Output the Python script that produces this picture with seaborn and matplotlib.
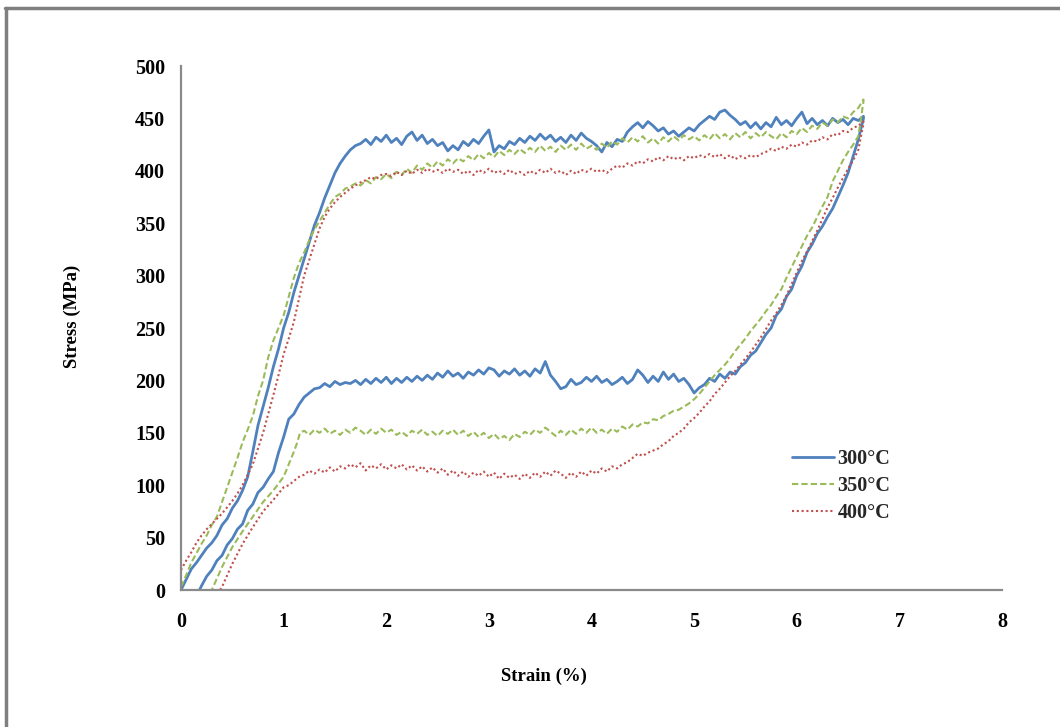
import numpy as np
import pandas as pd
import matplotlib
matplotlib.use("Agg")
import matplotlib.pyplot as plt
from matplotlib.lines import Line2D
import seaborn as sns

# ---------------- data ----------------
TEMPS = ["300°C", "350°C", "400°C"]

LOAD_STRAIN = [
    0.00, 0.05, 0.10, 0.15, 0.20, 0.25, 0.30, 0.35, 0.40, 0.45,
    0.50, 0.55, 0.60, 0.65, 0.70, 0.75, 0.80, 0.85, 0.90, 0.95,
    1.00, 1.05, 1.10, 1.15, 1.20, 1.25, 1.30, 1.35, 1.40, 1.45,
    1.50, 1.55, 1.60, 1.65, 1.70, 1.75, 1.80, 1.85, 1.90, 1.95,
    2.00, 2.05, 2.10, 2.15, 2.20, 2.25, 2.30, 2.35, 2.40, 2.45,
    2.50, 2.55, 2.60, 2.65, 2.70, 2.75, 2.80, 2.85, 2.90, 2.95,
    3.00, 3.05, 3.10, 3.15, 3.20, 3.25, 3.30, 3.35, 3.40, 3.45,
    3.50, 3.55, 3.60, 3.65, 3.70, 3.75, 3.80, 3.85, 3.90, 3.95,
    4.00, 4.05, 4.10, 4.15, 4.20, 4.25, 4.30, 4.35, 4.40, 4.45,
    4.50, 4.55, 4.60, 4.65, 4.70, 4.75, 4.80, 4.85, 4.90, 4.95,
    5.00, 5.05, 5.10, 5.15, 5.20, 5.25, 5.30, 5.35, 5.40, 5.45,
    5.50, 5.55, 5.60, 5.65, 5.70, 5.75, 5.80, 5.85, 5.90, 5.95,
    6.00, 6.05, 6.10, 6.15, 6.20, 6.25, 6.30, 6.35, 6.40, 6.45,
    6.50, 6.55, 6.60, 6.65,
]

LOAD_300 = [
    0, 10, 20, 26, 33, 40, 45, 52, 62, 68,
    78, 85, 95, 108, 132, 157, 175, 193, 213, 230,
    250, 265, 284, 300, 316, 332, 348, 360, 374, 386,
    398, 407, 414, 420, 424, 426, 430, 425, 432, 428,
    434, 427, 431, 425, 433, 437, 429, 434, 426, 430,
    424, 427, 419, 424, 420, 428, 424, 430, 426, 433,
    439, 418, 424, 421, 428, 425, 431, 427, 433, 429,
    435, 430, 434, 428, 432, 427, 434, 429, 436, 431,
    428, 424, 418, 427, 423, 430, 428, 437, 442, 446,
    441, 447, 443, 438, 441, 435, 438, 433, 437, 441,
    438, 444, 448, 452, 449, 456, 458, 453, 449, 444,
    447, 441, 446, 440, 446, 442, 451, 444, 448, 443,
    450, 456, 445, 450, 444, 448, 443, 450, 446, 449,
    444, 450, 448, 452,
]

LOAD_350 = [
    3, 14, 26, 35, 44, 52, 62, 70, 84, 98,
    112, 126, 141, 153, 166, 185, 200, 222, 238, 250,
    262, 280, 298, 312, 322, 334, 344, 352, 360, 368,
    375, 378, 383, 385, 388, 386, 391, 388, 394, 392,
    397, 393, 399, 396, 402, 398, 405, 401, 407, 403,
    409, 405, 411, 407, 412, 409, 414, 410, 416, 412,
    417, 413, 419, 415, 420, 416, 421, 417, 422, 418,
    424, 419, 423, 418, 424, 420, 425, 420, 426, 421,
    424, 420, 426, 422, 428, 425, 431, 427, 432, 428,
    433, 427, 431, 426, 432, 428, 433, 429, 434, 430,
    433, 429, 434, 430, 436, 431, 435, 430, 436, 432,
    437, 431, 436, 432, 437, 433, 430, 436, 432, 438,
    435, 441, 437, 443, 440, 446, 443, 449, 446, 452,
    450, 456, 460, 468,
]

LOAD_400 = [
    19, 28, 36, 45, 52, 58, 63, 68, 73, 79,
    85, 92, 100, 110, 120, 135, 150, 168, 186, 205,
    225, 240, 256, 278, 300, 315, 330, 345, 356, 364,
    370, 375, 379, 383, 386, 389, 391, 394, 392, 396,
    397, 395, 399, 396, 400, 397, 401, 398, 402, 399,
    401, 398, 402, 399, 401, 397, 400, 396, 401, 398,
    402, 398, 400, 397, 401, 397, 399, 396, 400, 397,
    401, 398, 402, 398, 400, 396, 400, 397, 401, 399,
    402, 399, 401, 398, 402, 405, 403, 407, 405, 409,
    407, 411, 409, 413, 410, 414, 411, 413, 410, 414,
    412, 415, 413, 416, 413, 416, 412, 415, 411, 414,
    412, 415, 413, 416, 418, 421, 419, 423, 421, 425,
    423, 427, 425, 429, 428, 432, 430, 435, 434, 438,
    437, 441, 443, 447,
]

UNLOAD_STRAIN = [
    6.65, 6.60, 6.55, 6.50, 6.45, 6.40, 6.35, 6.30, 6.25, 6.20,
    6.15, 6.10, 6.05, 6.00, 5.95, 5.90, 5.85, 5.80, 5.75, 5.70,
    5.65, 5.60, 5.55, 5.50, 5.45, 5.40, 5.35, 5.30, 5.25, 5.20,
    5.15, 5.10, 5.05, 5.00, 4.95, 4.90, 4.85, 4.80, 4.75, 4.70,
    4.65, 4.60, 4.55, 4.50, 4.45, 4.40, 4.35, 4.30, 4.25, 4.20,
    4.15, 4.10, 4.05, 4.00, 3.95, 3.90, 3.85, 3.80, 3.75, 3.70,
    3.65, 3.60, 3.55, 3.50, 3.45, 3.40, 3.35, 3.30, 3.25, 3.20,
    3.15, 3.10, 3.05, 3.00, 2.95, 2.90, 2.85, 2.80, 2.75, 2.70,
    2.65, 2.60, 2.55, 2.50, 2.45, 2.40, 2.35, 2.30, 2.25, 2.20,
    2.15, 2.10, 2.05, 2.00, 1.95, 1.90, 1.85, 1.80, 1.75, 1.70,
    1.65, 1.60, 1.55, 1.50, 1.45, 1.40, 1.35, 1.30, 1.25, 1.20,
]

UNLOAD_300 = [
    450, 430, 414, 398, 386, 375, 364, 356, 347, 340,
    330, 322, 309, 300, 287, 280, 268, 262, 250, 244,
    236, 228, 224, 217, 213, 206, 208, 202, 206, 199,
    202, 196, 193, 188, 196, 202, 199, 206, 201, 208,
    199, 204, 198, 205, 210, 201, 197, 203, 199, 196,
    201, 198, 204, 199, 203, 198, 196, 201, 194, 192,
    199, 205, 218, 207, 211, 204, 209, 205, 211, 206,
    209, 204, 210, 212, 206, 210, 205, 208, 202, 207,
    204, 209, 203, 207, 201, 205, 200, 204, 199, 203,
    198, 202, 197, 203, 198, 202, 197, 201, 196, 200,
    197, 198, 196, 199, 194, 197, 193, 192, 188, 184,
]

UNLOAD_350 = [
    466, 433, 425, 418, 410, 400, 390, 375, 366, 356,
    346, 338, 328, 318, 308, 298, 287, 280, 272, 266,
    259, 253, 247, 240, 234, 228, 221, 215, 210, 205,
    199, 193, 187, 182, 178, 175, 172, 171, 168, 166,
    162, 163, 159, 160, 156, 158, 153, 156, 151, 154,
    149, 153, 150, 155, 150, 154, 149, 153, 148, 152,
    147, 151, 155, 150, 153, 148, 151, 146, 149, 143,
    147, 144, 149, 145, 150, 146, 151, 147, 152, 148,
    153, 149, 152, 147, 151, 148, 153, 149, 152, 147,
    151, 148, 153, 150, 154, 149, 153, 148, 152, 155,
    150, 153, 148, 152, 149, 154, 150, 153, 148, 152,
]

UNLOAD_400 = [
    445, 420, 410, 402, 393, 384, 374, 365, 354, 343,
    333, 323, 314, 303, 292, 281, 272, 264, 257, 249,
    241, 234, 227, 221, 215, 209, 204, 198, 192, 187,
    180, 175, 169, 164, 160, 154, 150, 147, 142, 139,
    135, 133, 131, 128, 130, 126, 122, 120, 116, 118,
    113, 116, 111, 114, 109, 113, 108, 112, 107, 111,
    114, 109, 113, 108, 112, 107, 111, 106, 110, 107,
    111, 106, 112, 108, 113, 109, 112, 108, 113, 109,
    114, 110, 116, 112, 117, 113, 118, 114, 119, 115,
    120, 116, 119, 115, 120, 116, 119, 114, 121, 117,
    120, 116, 118, 113, 117, 112, 115, 111, 114, 110,
]

TAIL_STRAIN_300 = [1.15, 1.10, 1.05, 1.00, 0.95, 0.90, 0.85, 0.80, 0.75, 0.70,
                   0.65, 0.60, 0.55, 0.50, 0.45, 0.40, 0.35, 0.30, 0.25, 0.20, 0.18]
TAIL_300 = [177, 168, 163, 146, 131, 113, 106, 98, 93, 82,
            76, 63, 58, 49, 43, 33, 28, 19, 13, 4, 0]

TAIL_STRAIN_350 = [1.16, 1.13, 1.10, 1.05, 1.00, 0.90, 0.80, 0.70, 0.60, 0.50, 0.40, 0.30]
TAIL_350 = [150, 140, 132, 120, 108, 95, 84, 70, 56, 41, 22, 0]

TAIL_STRAIN_400 = [1.15, 1.10, 1.05, 1.00, 0.95, 0.90, 0.80, 0.70, 0.60, 0.50, 0.40, 0.38]
TAIL_400 = [108, 104, 100, 98, 92, 86, 75, 60, 44, 25, 3, 0]

X_TICKS = [0, 1, 2, 3, 4, 5, 6, 7, 8]
Y_TICKS = [0, 50, 100, 150, 200, 250, 300, 350, 400, 450, 500]

# ---------------- build a tidy table ----------------
paths = {
    "300°C": (LOAD_300, UNLOAD_300, TAIL_STRAIN_300, TAIL_300),
    "350°C": (LOAD_350, UNLOAD_350, TAIL_STRAIN_350, TAIL_350),
    "400°C": (LOAD_400, UNLOAD_400, TAIL_STRAIN_400, TAIL_400),
}
frames = []
for t in TEMPS:
    load, unload, tail_x, tail_y = paths[t]
    assert len(load) == len(LOAD_STRAIN), (t, len(load))
    assert len(unload) == len(UNLOAD_STRAIN), (t, len(unload))
    assert len(tail_x) == len(tail_y), t
    xs = list(LOAD_STRAIN) + list(UNLOAD_STRAIN) + list(tail_x)
    ys = list(load) + list(unload) + list(tail_y)
    frames.append(pd.DataFrame({"strain": xs, "stress": ys, "temp": t,
                                "order": np.arange(len(xs))}))
df = pd.concat(frames, ignore_index=True)

# ---------------- styling ----------------
sns.set_theme(style="white")
plt.rcParams["font.family"] = ["Liberation Serif", "DejaVu Serif"]

fig = plt.figure(figsize=(10.6, 7.27), dpi=100)
ax = fig.add_axes([181 / 1060, 1 - 590 / 727, (1002 - 181) / 1060, (590 - 66) / 727])

styles = {
    "300°C": dict(color="#4F81BD", lw=2.0, linestyle="-"),
    "350°C": dict(color="#9BBB59", lw=1.5, linestyle=(0, (3, 1.5))),
    "400°C": dict(color="#C0504D", lw=1.5, linestyle=(0, (1, 1.3))),
}
for t in TEMPS:
    sub = df[df["temp"] == t].sort_values("order")
    sns.lineplot(data=sub, x="strain", y="stress", sort=False, estimator=None,
                 ax=ax, label=t, **styles[t])

ax.set_xlim(0, 8)
ax.set_ylim(0, 500)
ax.set_xticks(X_TICKS)
ax.set_yticks(Y_TICKS)
ax.set_xticklabels([str(v) for v in X_TICKS])
ax.set_yticklabels([str(v) for v in Y_TICKS])

spine_col = "#8a8a8a"
for s in ["top", "right"]:
    ax.spines[s].set_visible(False)
for s in ["left", "bottom"]:
    ax.spines[s].set_color(spine_col)
    ax.spines[s].set_linewidth(1.6)

ax.tick_params(axis="both", direction="out", length=4.5, width=1.5, color=spine_col,
               labelsize=14.5, labelcolor="black")
ax.tick_params(axis="y", pad=7)
ax.tick_params(axis="x", pad=11)
for lab in ax.get_xticklabels() + ax.get_yticklabels():
    lab.set_fontweight("bold")

ax.set_xlabel("Strain (%)", fontsize=13.5, fontweight="bold", color="black")
ax.set_ylabel("Stress (MPa)", fontsize=13.5, fontweight="bold", color="black")
ax.xaxis.set_label_coords((544 - 181) / 821, (590 - 668) / 524)
ax.yaxis.set_label_coords((81 - 181) / 821, (590 - 316) / 524)
ax.grid(False)

leg = ax.legend(loc="upper left", bbox_to_anchor=((784 - 181) / 821, (590 - 441) / 524),
                frameon=False, prop={"family": "Liberation Serif", "weight": "bold", "size": 14.5},
                handlelength=2.1, handletextpad=0.15, labelspacing=0.35, borderaxespad=0)

# outer gray frame (top and left edges, as in the reference)
fig.add_artist(Line2D([5 / 1060, 1.0], [1 - 8 / 727, 1 - 8 / 727], transform=fig.transFigure,
                      color="#7f7f7f", lw=2.5))
fig.add_artist(Line2D([6 / 1060, 6 / 1060], [0.0, 1 - 8 / 727], transform=fig.transFigure,
                      color="#7f7f7f", lw=2.5))

fig.savefig("out.png", dpi=100, facecolor="white")
